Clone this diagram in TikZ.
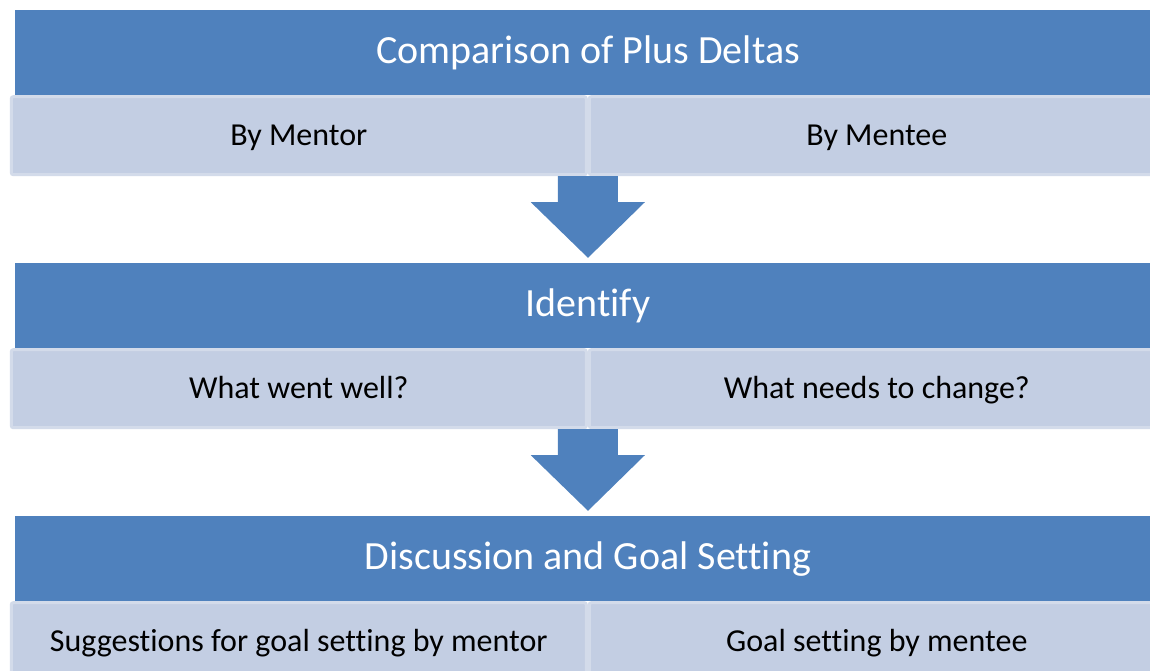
\documentclass[tikz,border=0pt]{standalone}
\usepackage{fontspec}
\setmainfont{Carlito}[Ligatures=NoCommon]
\usepackage{tikz}
\usetikzlibrary{positioning,calc}
\definecolor{headblue}{HTML}{4F81BD}
\definecolor{subfill}{HTML}{C3CEE3}
\definecolor{subedge}{HTML}{D3DBEA}

\begin{document}
\begin{tikzpicture}[x=1pt, y=-1pt,
    header/.style={rectangle, fill=headblue, minimum width=1146pt, minimum height=85pt, inner sep=0pt, text=white, text height=30pt, text depth=8.4pt, font=\fontsize{40}{46}\selectfont},
    subbox/.style={rectangle, rounded corners=2pt, draw=subedge, line width=3pt, fill=subfill, minimum width=575pt, minimum height=78pt, inner sep=0pt, text height=24pt, text depth=5pt, font=\fontsize{32}{38}\selectfont},
    flow/.style={fill=headblue}]
    \clip (0,0) rectangle (1150,670);

    % Comparison of Plus Deltas
    \node [header] (plus) at (588,52.5) {Comparison of Plus Deltas};
    \node [subbox, below right=0pt and -5pt of plus.south west] (mentor) {By Mentor};
    \node [subbox, right=0pt of mentor] (mentee) {By Mentee};

    % Identify
    \node [header] (identify) at (588,305.5) {Identify};
    \node [subbox, below right=0pt and -5pt of identify.south west] (well) {What went well?};
    \node [subbox, right=0pt of well] (change) {What needs to change?};

    % Discussion and Goal Setting
    \node [header] (goal) at (588,558.5) {Discussion and Goal Setting};
    \node [subbox, below right=0pt and -5pt of goal.south west] (suggest) {Suggestions for goal setting by mentor};
    \node [subbox, right=0pt of suggest] (setting) {Goal setting by mentee};

    % Block arrows
    \fill [flow] ($(mentor.south east)+(-30,0)$) -- ++(0,26) -- ++(-27,0) -- ($(identify.north)+(0,-5)$)
        -- ($(mentor.south east)+(57,26)$) -- ++(-27,0) -- ++(0,-26) -- cycle;
    \fill [flow] ($(well.south east)+(-30,0)$) -- ++(0,26) -- ++(-27,0) -- ($(goal.north)+(0,-5)$)
        -- ($(well.south east)+(57,26)$) -- ++(-27,0) -- ++(0,-26) -- cycle;
\end{tikzpicture}
\end{document}
